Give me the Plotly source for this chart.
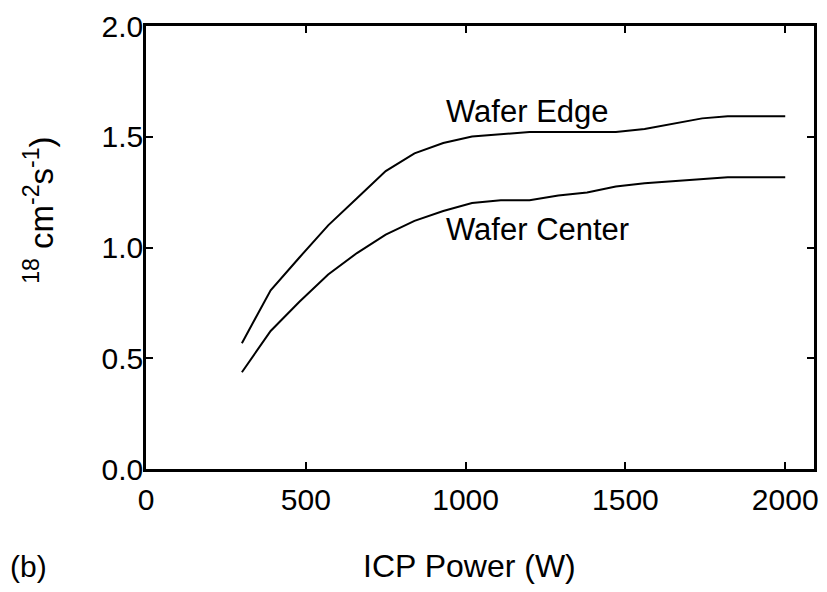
import plotly.graph_objects as go

# ---- data ----
power_w = [300, 390, 480, 570, 660, 750, 840, 930, 1020, 1110, 1200, 1290, 1380, 1470, 1560, 1650, 1740, 1820, 2000]
flux_edge = [0.568, 0.807, 0.955, 1.100, 1.222, 1.345, 1.425, 1.472, 1.501, 1.512, 1.521, 1.521, 1.521, 1.521, 1.535, 1.560, 1.583, 1.592, 1.592]
flux_center = [0.437, 0.623, 0.755, 0.878, 0.975, 1.058, 1.120, 1.165, 1.201, 1.213, 1.213, 1.235, 1.248, 1.275, 1.290, 1.300, 1.310, 1.317, 1.317]

x_ticks = [0, 500, 1000, 1500, 2000]
x_tick_text = ["0", "500", "1000", "1500", "2000"]
y_ticks = [0.0, 0.5, 1.0, 1.5, 2.0]
y_tick_text = ["0.0", "0.5", "1.0", "1.5", "2.0"]

FONT = "Liberation Sans, Arial, sans-serif"

fig = go.Figure()
fig.add_trace(go.Scatter(x=power_w, y=flux_edge, mode="lines",
                         line=dict(color="black", width=2), name="Wafer Edge"))
fig.add_trace(go.Scatter(x=power_w, y=flux_center, mode="lines",
                         line=dict(color="black", width=2), name="Wafer Center"))

axis_common = dict(showgrid=False, zeroline=False, showline=True, linecolor="black",
                   linewidth=2.5, mirror="ticks", ticks="inside", ticklen=7,
                   tickwidth=2, tickcolor="black",
                   tickfont=dict(family=FONT, size=30, color="black"))

fig.update_xaxes(range=[0, 2090], tickvals=x_ticks, ticktext=x_tick_text,
                 ticklabelstandoff=2, **axis_common)
fig.update_yaxes(range=[0, 2.0], tickvals=y_ticks, ticktext=y_tick_text,
                 ticklabelstandoff=-6, **axis_common)

fig.add_annotation(x=1195, y=1.616, xref="x", yref="y", text="Wafer Edge",
                   showarrow=False, font=dict(family=FONT, size=31, color="black"))
fig.add_annotation(x=1225, y=1.080, xref="x", yref="y", text="Wafer Center",
                   showarrow=False, font=dict(family=FONT, size=31, color="black"))
fig.add_annotation(x=0.485, y=-0.219, xref="paper", yref="paper", text="ICP Power (W)",
                   showarrow=False, xanchor="center", yanchor="middle",
                   font=dict(family=FONT, size=32, color="black"))
fig.add_annotation(x=-0.207, y=-0.219, xref="paper", yref="paper", text="(b)",
                   showarrow=False, xanchor="left", yanchor="middle",
                   font=dict(family=FONT, size=30, color="black"))
fig.add_annotation(x=-0.160, y=0.583, xref="paper", yref="paper",
                   text="<sup>18</sup> cm<sup>-2</sup>s<sup>-1</sup>)",
                   textangle=-90, showarrow=False, xanchor="center", yanchor="middle",
                   font=dict(family=FONT, size=33, color="black"))

fig.update_layout(width=827, height=592, showlegend=False,
                  paper_bgcolor="white", plot_bgcolor="white",
                  margin=dict(l=146, r=9, t=21, b=123))

fig.write_html("out.html")
